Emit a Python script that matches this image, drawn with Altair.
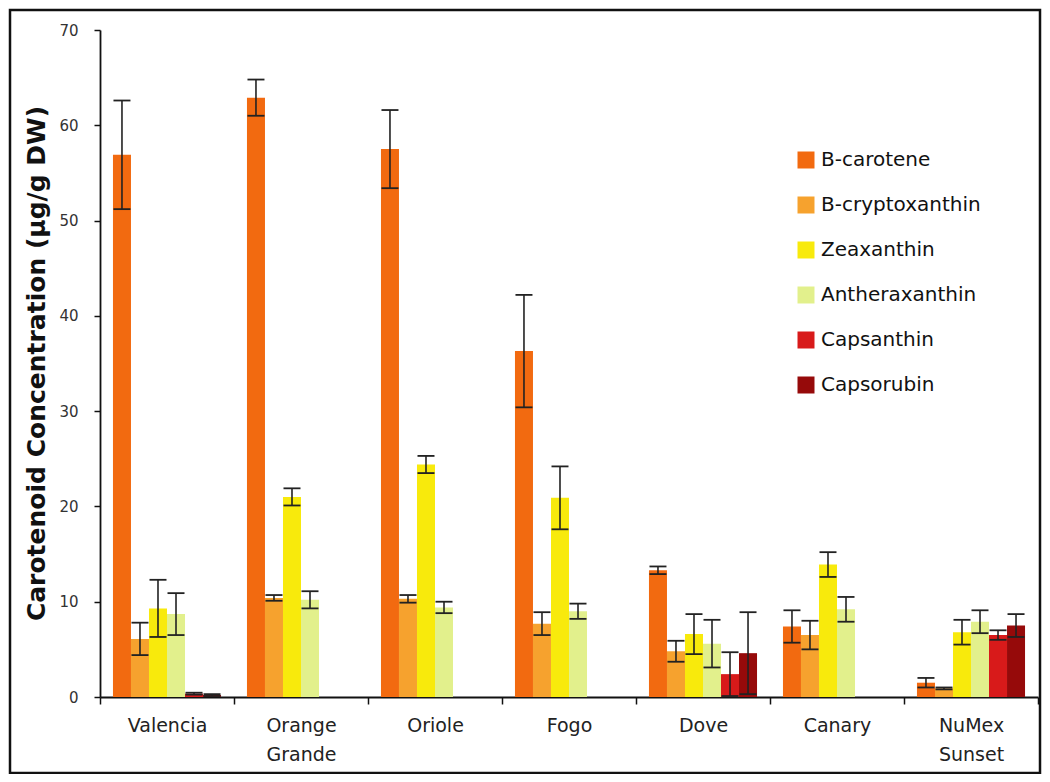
import altair as alt
import pandas as pd

varieties = ["Valencia", "Orange Grande", "Oriole", "Fogo", "Dove", "Canary", "NuMex Sunset"]
pigments = ["B-carotene", "B-cryptoxanthin", "Zeaxanthin", "Antheraxanthin", "Capsanthin", "Capsorubin"]
colors = ["#F26A10", "#F6A22E", "#F8EA0C", "#E2F08C", "#D81A1A", "#960A0A"]

b_carotene = [56.9, 62.9, 57.5, 36.3, 13.3, 7.4, 1.5]
b_carotene_err = [5.7, 1.9, 4.1, 5.9, 0.4, 1.7, 0.5]
b_cryptoxanthin = [6.1, 10.4, 10.3, 7.7, 4.8, 6.5, 0.9]
b_cryptoxanthin_err = [1.7, 0.3, 0.4, 1.2, 1.1, 1.5, 0.1]
zeaxanthin = [9.3, 21.0, 24.4, 20.9, 6.6, 13.9, 6.8]
zeaxanthin_err = [3.0, 0.9, 0.9, 3.3, 2.1, 1.3, 1.3]
antheraxanthin = [8.7, 10.2, 9.4, 9.0, 5.6, 9.2, 7.9]
antheraxanthin_err = [2.2, 0.9, 0.6, 0.8, 2.5, 1.3, 1.2]
capsanthin = [0.35, 0, 0, 0, 2.4, 0, 6.5]
capsanthin_err = [0.1, 0, 0, 0, 2.3, 0, 0.5]
capsorubin = [0.2, 0, 0, 0, 4.6, 0, 7.5]
capsorubin_err = [0.1, 0, 0, 0, 4.3, 0, 1.2]

series = [
    (b_carotene, b_carotene_err),
    (b_cryptoxanthin, b_cryptoxanthin_err),
    (zeaxanthin, zeaxanthin_err),
    (antheraxanthin, antheraxanthin_err),
    (capsanthin, capsanthin_err),
    (capsorubin, capsorubin_err),
]

rows = []
for pig, (vals, errs) in zip(pigments, series):
    for var, v, e in zip(varieties, vals, errs):
        rows.append({"variety": var, "pigment": pig, "value": v, "err": e,
                     "lo": v - e, "hi": v + e})
df = pd.DataFrame(rows)

FONT = "DejaVu Sans"

x_enc = alt.X("variety:N", sort=varieties,
              scale=alt.Scale(domain=varieties, paddingInner=0, paddingOuter=0),
              axis=alt.Axis(title=None, labelAngle=0, labelFontSize=19, labelFont=FONT,
                            labelColor="#222222", labelExpr="split(datum.label, ' ')",
                            labelLineHeight=29, tickBand="extent", tickSize=7,
                            tickColor="#111111", tickWidth=1.5, labelPadding=12,
                            domainColor="#111111", domainWidth=1.8, labelBaseline="top"))
xo_enc = alt.XOffset("pigment:N", sort=pigments,
                     scale=alt.Scale(domain=pigments, paddingInner=0, paddingOuter=0.72))
y_scale = alt.Scale(domain=[0, 70], nice=False)

bars = alt.Chart(df).mark_bar(opacity=1).encode(
    x=x_enc,
    xOffset=xo_enc,
    y=alt.Y("value:Q", scale=y_scale,
            axis=alt.Axis(title="Carotenoid Concentration (µg/g DW)", values=[0, 10, 20, 30, 40, 50, 60, 70],
                          grid=False, tickSize=6, tickColor="#111111", tickWidth=1.5,
                          domainColor="#111111", domainWidth=1.8, labelFontSize=15,
                          labelFont=FONT, labelColor="#333333", labelPadding=16,
                          titleFont=FONT, titleFontSize=25, titleFontWeight="bold",
                          titleColor="#111111", titleAngle=-90, titleX=-56, titleY=333,
                          titleAlign="center", titleBaseline="alphabetic")),
    color=alt.Color("pigment:N", sort=pigments,
                    scale=alt.Scale(domain=pigments, range=colors),
                    legend=alt.Legend(title=None, orient="none", legendX=696, legendY=120,
                                      symbolType="square", symbolSize=289, symbolStrokeWidth=0,
                                      labelFontSize=20, labelFont=FONT, labelColor="#111111",
                                      rowPadding=25, labelOffset=5, symbolOpacity=1)),
)

err_base = alt.Chart(df).transform_filter("datum.err > 0")

rules = err_base.mark_rule(color="#222222", strokeWidth=1.6).encode(
    x=alt.X("variety:N", sort=varieties),
    xOffset=alt.XOffset("pigment:N", sort=pigments),
    y=alt.Y("lo:Q", scale=y_scale),
    y2="hi:Q",
)
caps_hi = err_base.mark_tick(color="#222222", thickness=1.8, size=17, opacity=1).encode(
    x=alt.X("variety:N", sort=varieties),
    xOffset=alt.XOffset("pigment:N", sort=pigments),
    y=alt.Y("hi:Q", scale=y_scale),
)
caps_lo = err_base.mark_tick(color="#222222", thickness=1.8, size=17, opacity=1).encode(
    x=alt.X("variety:N", sort=varieties),
    xOffset=alt.XOffset("pigment:N", sort=pigments),
    y=alt.Y("lo:Q", scale=y_scale),
)

frame = alt.Chart(alt.Data(values=[{"k": 1}])).mark_rect(
    fill=None, filled=False, stroke="#111111", strokeWidth=2.5
).encode(
    x=alt.value(-90), x2=alt.value(940), y=alt.value(-20), y2=alt.value(743)
)

chart = alt.layer(bars, rules, caps_hi, caps_lo, frame).properties(
    width=938, height=667,
    autosize=alt.AutoSizeParams(type="none"),
    padding={"left": 92, "top": 22, "right": 4, "bottom": 77},
    background="white",
).configure_view(stroke=None)

chart.save("out.html", embed_options={"renderer": "svg", "actions": False})
